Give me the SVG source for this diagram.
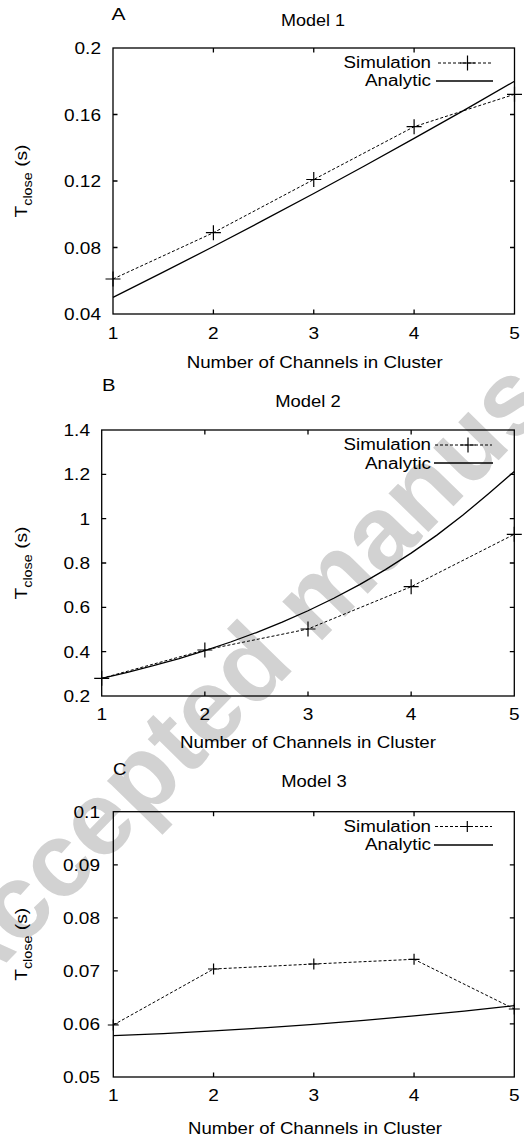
<svg xmlns="http://www.w3.org/2000/svg" xmlns:xlink="http://www.w3.org/1999/xlink" width="524" height="1137" viewBox="0 0 524 1137">
<style>
.f{fill:none;stroke:#000;stroke-width:1.3}
.t{font-family:"Liberation Sans",Arial,Helvetica,sans-serif;font-size:16px;fill:#000}
.sim{fill:none;stroke:#000;stroke-width:1;stroke-dasharray:3 2}
.ana{fill:none;stroke:#000;stroke-width:1.3}
.pt{fill:none;stroke:#000;stroke-width:1.2}
.wm{font-family:"Liberation Sans",Arial,sans-serif;font-weight:bold;font-size:105px;fill:#d2d2d2}
</style>
<defs>
<path id="plusL" class="pt" d="M-7.5,0H7.5M0,-7.5V7.5"/>
<path id="plusS" class="pt" d="M-5.5,0H5.5M0,-5.5V5.5"/>
</defs>
<rect width="524" height="1137" fill="#fff"/>
<g id="watermark">
<text class="wm" transform="translate(-34,1004.1) rotate(-45.6)">Accepted manuscript</text>
</g>

<g id="plotA">
<rect x="113" y="48" width="401.5" height="266" class="f"/>
<path class="f" d="M113,114.5h4.5M113,181h4.5M113,247.5h4.5M514.5,114.5h-4.5M514.5,181h-4.5M514.5,247.5h-4.5M213.4,48v4.5M313.75,48v4.5M414.1,48v4.5M213.4,314v-4.5M313.75,314v-4.5M414.1,314v-4.5"/>
<g class="t" text-anchor="end">
<text x="101" y="54" textLength="26.5" lengthAdjust="spacingAndGlyphs">0.2</text>
<text x="101" y="120.5" textLength="37" lengthAdjust="spacingAndGlyphs">0.16</text>
<text x="101" y="187" textLength="37" lengthAdjust="spacingAndGlyphs">0.12</text>
<text x="101" y="253.5" textLength="37" lengthAdjust="spacingAndGlyphs">0.08</text>
<text x="101" y="320" textLength="37" lengthAdjust="spacingAndGlyphs">0.04</text>
</g>
<g class="t" text-anchor="middle">
<text x="113" y="339" textLength="10.6" lengthAdjust="spacingAndGlyphs">1</text>
<text x="213.4" y="339" textLength="10.6" lengthAdjust="spacingAndGlyphs">2</text>
<text x="313.75" y="339" textLength="10.6" lengthAdjust="spacingAndGlyphs">3</text>
<text x="414.1" y="339" textLength="10.6" lengthAdjust="spacingAndGlyphs">4</text>
<text x="514.5" y="339" textLength="10.6" lengthAdjust="spacingAndGlyphs">5</text>
<text x="314.7" y="367.5" textLength="256" lengthAdjust="spacingAndGlyphs">Number of Channels in Cluster</text>
<text x="313" y="26" textLength="64" lengthAdjust="spacingAndGlyphs">Model 1</text>
</g>
<text class="t" x="111.5" y="20" textLength="14" lengthAdjust="spacingAndGlyphs">A</text>
<text class="t" transform="translate(27,181) rotate(-90) scale(1.2,1)" text-anchor="middle">T<tspan font-size="12" dy="5">close</tspan><tspan dy="-5"> (s)</tspan></text>
<g id="legendA">
<text class="t" x="431" y="67.5" text-anchor="end" textLength="87.5" lengthAdjust="spacingAndGlyphs">Simulation</text>
<text class="t" x="431" y="86" text-anchor="end" textLength="66" lengthAdjust="spacingAndGlyphs">Analytic</text>
<path class="sim" d="M438,63H493"/>
<use xlink:href="#plusL" x="467.5" y="63"/>
<path class="ana" d="M436,81H493"/>
</g>
<g id="seriesA">
<polyline class="ana" points="113,297.4 163.2,272.2 213.4,246.5 263.6,220.2 313.75,193.5 363.9,166.2 414.1,138.4 464.3,110.1 514.5,81.25"/>
<polyline class="sim" points="113,279 213.4,232.7 313.75,179.5 414.1,126.7 514.5,94.3"/>
<use xlink:href="#plusL" x="113" y="279"/>
<use xlink:href="#plusL" x="213.4" y="232.7"/>
<use xlink:href="#plusL" x="313.75" y="179.5"/>
<use xlink:href="#plusL" x="414.1" y="126.7"/>
<use xlink:href="#plusL" x="514.5" y="94.3"/>
</g>
</g>

<g id="plotB">
<rect x="101.7" y="430" width="412.6" height="266" class="f"/>
<path class="f" d="M101.7,474.3h4.5M101.7,518.7h4.5M101.7,563h4.5M101.7,607.3h4.5M101.7,651.7h4.5M514.3,474.3h-4.5M514.3,518.7h-4.5M514.3,563h-4.5M514.3,607.3h-4.5M514.3,651.7h-4.5M204.85,430v4.5M308,430v4.5M411.15,430v4.5M204.85,696v-4.5M308,696v-4.5M411.15,696v-4.5"/>
<g class="t" text-anchor="end">
<text x="90" y="436" textLength="26.5" lengthAdjust="spacingAndGlyphs">1.4</text>
<text x="90" y="480.3" textLength="26.5" lengthAdjust="spacingAndGlyphs">1.2</text>
<text x="90" y="524.7" textLength="10.6" lengthAdjust="spacingAndGlyphs">1</text>
<text x="90" y="569" textLength="26.5" lengthAdjust="spacingAndGlyphs">0.8</text>
<text x="90" y="613.3" textLength="26.5" lengthAdjust="spacingAndGlyphs">0.6</text>
<text x="90" y="657.7" textLength="26.5" lengthAdjust="spacingAndGlyphs">0.4</text>
<text x="90" y="702" textLength="26.5" lengthAdjust="spacingAndGlyphs">0.2</text>
</g>
<g class="t" text-anchor="middle">
<text x="101.7" y="720" textLength="10.6" lengthAdjust="spacingAndGlyphs">1</text>
<text x="204.85" y="720" textLength="10.6" lengthAdjust="spacingAndGlyphs">2</text>
<text x="308" y="720" textLength="10.6" lengthAdjust="spacingAndGlyphs">3</text>
<text x="411.15" y="720" textLength="10.6" lengthAdjust="spacingAndGlyphs">4</text>
<text x="514.3" y="720" textLength="10.6" lengthAdjust="spacingAndGlyphs">5</text>
<text x="308" y="748" textLength="256" lengthAdjust="spacingAndGlyphs">Number of Channels in Cluster</text>
<text x="308" y="406.7" textLength="65.5" lengthAdjust="spacingAndGlyphs">Model 2</text>
</g>
<text class="t" x="102" y="390.7" textLength="13.5" lengthAdjust="spacingAndGlyphs">B</text>
<text class="t" transform="translate(27,563) rotate(-90) scale(1.2,1)" text-anchor="middle">T<tspan font-size="12" dy="5">close</tspan><tspan dy="-5"> (s)</tspan></text>
<g id="legendB">
<text class="t" x="431" y="450" text-anchor="end" textLength="87.5" lengthAdjust="spacingAndGlyphs">Simulation</text>
<text class="t" x="431" y="468.5" text-anchor="end" textLength="66" lengthAdjust="spacingAndGlyphs">Analytic</text>
<path class="sim" d="M435,445H492"/>
<use xlink:href="#plusL" x="468" y="445"/>
<path class="ana" d="M434,463H493"/>
</g>
<g id="seriesB">
<polyline class="ana" points="101.7,678.27 127.5,672.29 153.3,665.73 179.1,658.53 204.85,650.66 230.6,642.0 256.4,632.53 282.2,622.14 308,610.75 333.8,598.27 359.6,584.58 385.4,569.6 411.15,553.14 436.9,535.11 462.7,515.33 488.5,493.65 514.3,471.5"/>
<polyline class="sim" points="101.7,678.3 204.85,650 308,629 411.15,586.7 514.3,534.3"/>
<use xlink:href="#plusL" x="101.7" y="678.3"/>
<use xlink:href="#plusL" x="204.85" y="650"/>
<use xlink:href="#plusL" x="308" y="629"/>
<use xlink:href="#plusL" x="411.15" y="586.7"/>
<use xlink:href="#plusL" x="514.3" y="534.3"/>
</g>
</g>

<g id="plotC">
<rect x="113.3" y="811.7" width="401" height="265.3" class="f"/>
<path class="f" d="M113.3,864.8h4.5M113.3,917.8h4.5M113.3,970.9h4.5M113.3,1023.9h4.5M514.3,864.8h-4.5M514.3,917.8h-4.5M514.3,970.9h-4.5M514.3,1023.9h-4.5M213.55,811.7v4.5M313.8,811.7v4.5M414.05,811.7v4.5M213.55,1077v-4.5M313.8,1077v-4.5M414.05,1077v-4.5"/>
<g class="t" text-anchor="end">
<text x="100" y="817.7" textLength="26.5" lengthAdjust="spacingAndGlyphs">0.1</text>
<text x="100" y="870.8" textLength="37" lengthAdjust="spacingAndGlyphs">0.09</text>
<text x="100" y="923.8" textLength="37" lengthAdjust="spacingAndGlyphs">0.08</text>
<text x="100" y="976.9" textLength="37" lengthAdjust="spacingAndGlyphs">0.07</text>
<text x="100" y="1029.9" textLength="37" lengthAdjust="spacingAndGlyphs">0.06</text>
<text x="100" y="1083" textLength="37" lengthAdjust="spacingAndGlyphs">0.05</text>
</g>
<g class="t" text-anchor="middle">
<text x="113.3" y="1101" textLength="10.6" lengthAdjust="spacingAndGlyphs">1</text>
<text x="213.55" y="1101" textLength="10.6" lengthAdjust="spacingAndGlyphs">2</text>
<text x="313.8" y="1101" textLength="10.6" lengthAdjust="spacingAndGlyphs">3</text>
<text x="414.05" y="1101" textLength="10.6" lengthAdjust="spacingAndGlyphs">4</text>
<text x="514.3" y="1101" textLength="10.6" lengthAdjust="spacingAndGlyphs">5</text>
<text x="315" y="1134" textLength="254" lengthAdjust="spacingAndGlyphs">Number of Channels in Cluster</text>
<text x="314" y="787.3" textLength="65.5" lengthAdjust="spacingAndGlyphs">Model 3</text>
</g>
<text class="t" x="113" y="775" textLength="13.5" lengthAdjust="spacingAndGlyphs">C</text>
<text class="t" transform="translate(27,944.3) rotate(-90) scale(1.2,1)" text-anchor="middle">T<tspan font-size="12" dy="5">close</tspan><tspan dy="-5"> (s)</tspan></text>
<g id="legendC">
<text class="t" x="431" y="831.5" text-anchor="end" textLength="87.5" lengthAdjust="spacingAndGlyphs">Simulation</text>
<text class="t" x="431" y="850" text-anchor="end" textLength="66" lengthAdjust="spacingAndGlyphs">Analytic</text>
<path class="sim" d="M435,826.5H492"/>
<use xlink:href="#plusS" x="467.3" y="826.5"/>
<path class="ana" d="M434,845H493"/>
</g>
<g id="seriesC">
<polyline class="ana" points="113.3,1035.7 163.4,1033.53 213.55,1030.9 263.7,1027.83 313.8,1024.3 363.9,1020.33 414.05,1015.9 464.2,1011.03 514.3,1005.7"/>
<polyline class="sim" points="113.3,1025 213.55,969 313.8,964 414.05,959.3 514.3,1009"/>
<use xlink:href="#plusS" x="113.3" y="1025"/>
<use xlink:href="#plusS" x="213.55" y="969"/>
<use xlink:href="#plusS" x="313.8" y="964"/>
<use xlink:href="#plusS" x="414.05" y="959.3"/>
<use xlink:href="#plusS" x="514.3" y="1009"/>
</g>
</g>
</svg>
